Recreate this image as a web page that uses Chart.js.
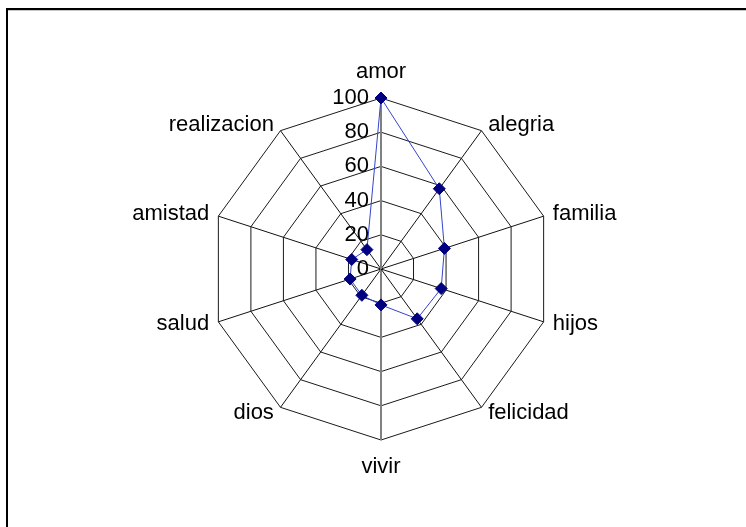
<!DOCTYPE html>
<html>
<head>
<meta charset="utf-8">
<script src="https://cdn.jsdelivr.net/npm/chart.js@4.4.1/dist/chart.umd.min.js"></script>
<style>
  html, body { margin:0; padding:0; background:#fff; }
  #wrap { position:relative; width:746px; height:527px; overflow:hidden; }
  #frame { position:absolute; left:6px; top:8px; width:760px; height:540px; border-top:2px solid #000; border-left:2px solid #000; pointer-events:none; }
  #shade { position:absolute; left:8px; top:10px; width:760px; height:1px; background:#c8c8c8; }
</style>
</head>
<body>
<div id="wrap">
  <canvas id="radar" width="746" height="527"></canvas>
  <div id="frame"></div>
  <div id="shade"></div>
</div>
<script>
const categories = ['amor','alegria','familia','hijos','felicidad','vivir','dios','salud','amistad','realizacion'];
const values = [100, 58, 39, 37, 36, 21, 19, 19, 18, 14];
const tickValues = [0, 20, 40, 60, 80, 100];

const FONT = '22px "Liberation Sans", Arial, sans-serif';

// tick labels sit to the left of the vertical axis, like the original
const tickLabels = {
  id:'tickLabels',
  beforeDatasetsDraw(chart){
    const s = chart.scales.r, ctx = chart.ctx;
    ctx.save();
    ctx.font = FONT;
    ctx.fillStyle = '#000';
    ctx.textAlign = 'right';
    ctx.textBaseline = 'middle';
    tickValues.forEach(v=>{
      const y = s.yCenter - s.getDistanceFromCenterForValue(v);
      ctx.fillText(String(v), s.xCenter - 12, y);
    });
    ctx.restore();
  }
};

// category labels placed round the outer ring
const catLabels = {
  id:'catLabels',
  afterDraw(chart){
    const s = chart.scales.r, ctx = chart.ctx;
    const n = categories.length;
    ctx.save();
    ctx.font = FONT;
    ctx.fillStyle = '#000';
    categories.forEach((c,i)=>{
      const deg = i*360/n;
      if(deg===0){
        const p = s.getPointPosition(i, s.drawingArea + 20);
        ctx.textAlign='center'; ctx.textBaseline='alphabetic';
        ctx.fillText(c, p.x, p.y);
      } else if(deg===180){
        const p = s.getPointPosition(i, s.drawingArea + 33);
        ctx.textAlign='center'; ctx.textBaseline='alphabetic';
        ctx.fillText(c, p.x, p.y);
      } else {
        const p = s.getPointPosition(i, s.drawingArea + 7);
        const right = deg < 180;
        ctx.textAlign = right ? 'left' : 'right';
        ctx.textBaseline = 'middle';
        ctx.fillText(c, p.x + (right ? 2.5 : -2.5), p.y);
      }
    });
    ctx.restore();
  }
};

new Chart(document.getElementById('radar'), {
  type:'radar',
  data:{
    labels:categories,
    datasets:[{
      label:'serie',
      data:values,
      borderColor:'#3344cc',
      borderWidth:1,
      backgroundColor:'#000080',
      fill:false,
      pointStyle:'rectRot',
      pointRadius:6,
      pointBackgroundColor:'#000080',
      pointBorderColor:'#000080',
      pointBorderWidth:1,
      tension:0
    }]
  },
  options:{
    responsive:false,
    animation:false,
    layout:{ padding:{ left:210, right:194, top:98, bottom:87 } },
    plugins:{ legend:{display:false}, tooltip:{enabled:false} },
    scales:{
      r:{
        min:0, max:100,
        ticks:{ stepSize:20, display:false },
        pointLabels:{ display:false },
        grid:{ circular:false, color:'#1a1a1a', lineWidth:1 },
        angleLines:{
          color:(c)=> (c.index===0||c.index===5) ? '#808080' : '#111',
          lineWidth:(c)=> (c.index===0||c.index===5) ? 2 : 1
        }
      }
    }
  },
  plugins:[tickLabels, catLabels]
});
</script>
</body>
</html>
